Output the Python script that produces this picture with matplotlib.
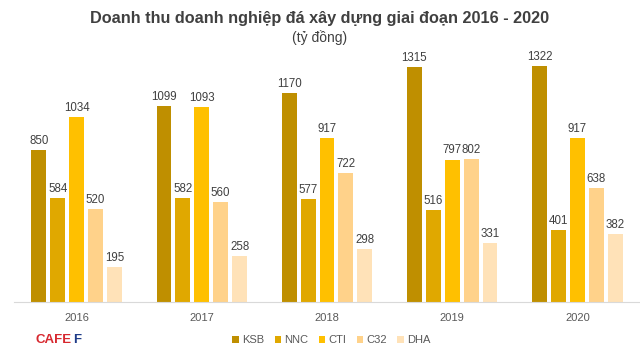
import numpy as np
import matplotlib
matplotlib.use("Agg")
import matplotlib.pyplot as plt
from matplotlib.patches import Patch

plt.rcParams["font.family"] = ["Liberation Sans", "DejaVu Sans"]

years = ["2016", "2017", "2018", "2019", "2020"]
companies = ["KSB", "NNC", "CTI", "C32", "DHA"]
ksb = [850, 1099, 1170, 1315, 1322]
nnc = [584, 582, 577, 516, 401]
cti = [1034, 1093, 917, 797, 917]
c32 = [520, 560, 722, 802, 638]
dha = [195, 258, 298, 331, 382]
colors = ["#BF8F00", "#E0A800", "#FFC000", "#FFD28A", "#FFE2B8"]

series = [ksb, nnc, cti, c32, dha]

fig = plt.figure(figsize=(6.4, 3.52), dpi=100)
ax = fig.add_axes([14 / 640, 50 / 352, 626 / 640, 250 / 352])

x = np.arange(len(years))
slot = 0.151
width = 0.119
for i, (vals, col) in enumerate(zip(series, colors)):
    pos = x + (i - 2) * slot
    ax.bar(pos, vals, width, color=col, zorder=2)
    for xp, v in zip(pos, vals):
        ax.text(xp, v + 18, str(v), ha="center", va="bottom",
                fontsize=8.3, color="#404040")

ax.set_xlim(-0.5, len(years) - 0.5)
ax.set_ylim(0, 1400)
ax.set_yticks([])
ax.set_xticks(x)
ax.set_xticklabels(years, fontsize=8, color="#595959")
ax.tick_params(axis="x", length=0, pad=8)
for s in ["top", "right", "left"]:
    ax.spines[s].set_visible(False)
ax.spines["bottom"].set_color("#D9D9D9")

fig.text(0.5, 0.948, "Doanh thu doanh nghiệp đá xây dựng giai đoạn 2016 - 2020",
         ha="center", va="center", fontsize=11.7, fontweight="bold", color="#404040")
fig.text(0.5, 0.893, "(tỷ đồng)", ha="center", va="center",
         fontsize=10, color="#404040")

handles = [Patch(facecolor=c, edgecolor="none") for c in colors]
fig.legend(handles, companies, loc="center", bbox_to_anchor=(0.518, 0.034),
           ncol=5, frameon=False, fontsize=8, handlelength=0.6, handleheight=0.6,
           handletextpad=0.3, columnspacing=0.9, labelcolor="#595959")

# logo
logo = fig.text(36 / 640, 0.034, "CAFE", ha="left", va="center", fontsize=9.5,
                fontweight="heavy", color="#D7282F")
fig.canvas.draw()
bb = logo.get_window_extent()
fig.text(bb.x1 / 640 + 0.001, 0.034, "F", ha="left", va="center", fontsize=9.5,
         fontweight="heavy", color="#1F3C88")

fig.savefig("out.png", dpi=100)
